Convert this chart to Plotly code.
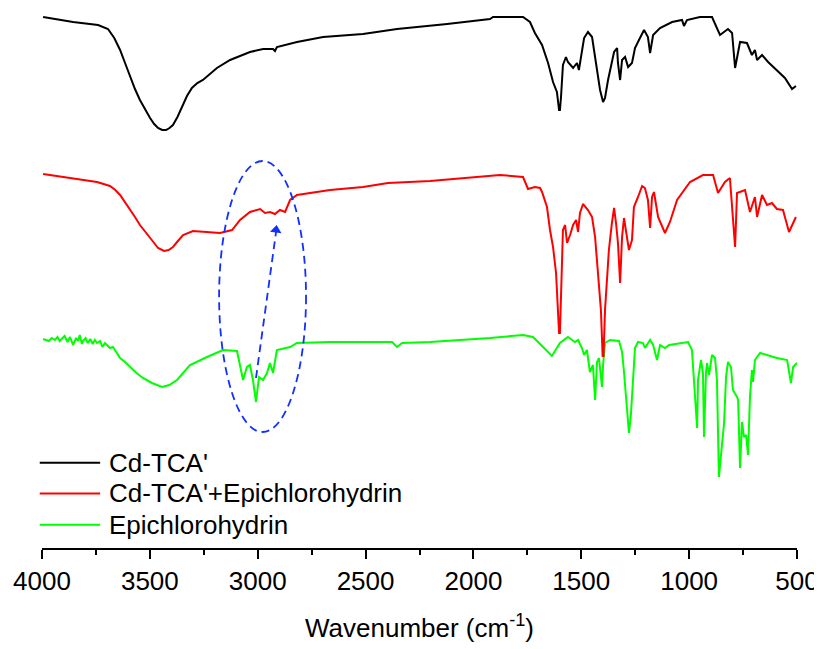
import plotly.graph_objects as go

# ---------------- data (y = offset transmittance, a.u.) ----------------
wn_black = [3995, 3856, 3740, 3694, 3665, 3638, 3615, 3592, 3569, 3546, 3522, 3499, 3480, 3462, 3443,
            3425, 3409, 3393, 3372, 3351, 3328, 3305, 3280, 3254, 3220, 3189,
            3128, 3036, 2975, 2929, 2920, 2911, 2818, 2697, 2512, 2354, 2122, 1923, 1909, 1770, 1738,
            1715, 1682, 1654, 1631, 1613, 1603, 1599, 1594, 1585, 1571, 1562, 1538, 1520, 1511, 1497,
            1487, 1469, 1450, 1441, 1427, 1413, 1399, 1390, 1376, 1362, 1348, 1334, 1330, 1320, 1311,
            1297, 1283, 1265, 1251, 1228, 1209, 1191, 1181, 1167, 1135, 1079, 1033, 1024, 1010, 950,
            894, 857, 820, 801, 787, 764, 732, 709, 695, 685, 662, 634, 593, 556, 523, 505]
t_black = [531, 526, 523, 519, 510, 498, 485, 471, 459, 448, 438, 430, 424, 420, 418,
           418, 420, 423, 431, 441, 452, 460, 465, 468, 474, 480,
           488, 496, 499, 499, 497, 501, 506, 511, 514, 519, 524, 529, 531, 531, 526,
           515, 503, 485, 466, 456, 438, 438, 451, 483, 491, 486, 480, 485, 478, 495,
           510, 516, 511, 498, 476, 458, 446, 450, 468, 483, 496, 500, 485, 468, 488,
           491, 481, 485, 500, 510, 518, 511, 495, 513, 520, 526, 528, 522, 528, 531,
           531, 513, 519, 515, 480, 506, 505, 493, 498, 488, 493, 486, 478, 470, 459, 462]

wn_red = [3995, 3870, 3745, 3685, 3660, 3638, 3615, 3592, 3569, 3546, 3522, 3499, 3480, 3462, 3434,
          3413, 3393, 3370, 3346, 3300, 3235, 3175,
          3119, 3082, 3036, 2989, 2966, 2943, 2920, 2897, 2873, 2850, 2818, 2665, 2512, 2396, 2201,
          1970, 1877, 1770, 1747, 1715, 1691, 1682, 1659, 1645, 1631, 1617, 1608, 1603, 1599, 1594,
          1585, 1575, 1566, 1552, 1538, 1524, 1515, 1506, 1492, 1469, 1450, 1436, 1427, 1418, 1409,
          1401, 1397, 1390, 1381, 1372, 1358, 1348, 1339, 1330, 1320, 1311, 1302, 1288, 1279, 1265,
          1256, 1237, 1218, 1205, 1191, 1181, 1172, 1163, 1144, 1112, 1089, 1056, 1029, 996, 936,
          889, 866, 834, 811, 787, 778, 764, 741, 718, 695, 685, 662, 639, 616, 593, 565, 537, 505]
t_red = [374, 370, 366, 362, 358, 353, 346, 338, 331, 323, 316, 310, 305, 300, 297,
         298, 301, 307, 313, 317, 316, 315,
         318, 328, 336, 339, 335, 336, 334, 338, 336, 348, 353, 358, 361, 365, 367,
         371, 373, 371, 359, 361, 360, 356, 341, 318, 301, 275, 238, 215, 215, 260,
         318, 323, 305, 313, 323, 328, 316, 335, 344, 338, 331, 311, 288, 268, 238,
         192, 192, 238, 271, 298, 325, 340, 325, 305, 265, 311, 330, 311, 298, 308,
         341, 351, 362, 360, 348, 320, 351, 356, 331, 315, 326, 348, 356, 366, 373,
         373, 355, 366, 370, 301, 355, 356, 358, 336, 351, 331, 353, 343, 345, 339, 338, 316, 331]

wn_green = [3995, 3980, 3968, 3955, 3940, 3928, 3918, 3905, 3895, 3882, 3870, 3856, 3842, 3833, 3825,
            3815, 3810, 3798, 3788, 3776, 3765, 3755, 3745, 3731, 3720, 3708,
            3685, 3671, 3657, 3638, 3615, 3592, 3562, 3532, 3490, 3444, 3410, 3374, 3314, 3235, 3161,
            3096, 3082, 3068,
            3050, 3036, 3022, 3008, 2994, 2975, 2957, 2943, 2929, 2911, 2850, 2818, 2665, 2377, 2354,
            2331, 2201, 1923, 1770, 1724, 1677, 1636, 1599, 1562, 1529, 1515, 1497, 1487, 1474, 1460,
            1446, 1436, 1427, 1418, 1404, 1399, 1390, 1367, 1325, 1311, 1302, 1288, 1279, 1270, 1265,
            1251, 1237, 1214, 1205, 1181, 1167, 1149, 1135, 1112, 1093, 1042, 1005, 987, 977, 963,
            959, 945, 936, 931, 922, 917, 908, 894, 880, 871, 862, 848, 838, 829, 820,
            806, 797, 778, 773, 764, 755, 746, 736, 727, 718, 709, 704, 695, 671, 593,
            546, 528, 518, 500]
t_green = [209, 208, 207, 210, 208, 211, 207, 210, 212, 206, 211, 203, 210, 207, 213,
           204, 207, 210, 205, 209, 204, 208, 205, 207, 201, 205,
           200, 201, 196, 190, 186, 181, 175, 170, 165, 161, 163, 168, 183, 191, 198,
           197, 181, 168,
           181, 183, 168, 146, 171, 168, 175, 185, 175, 198, 201, 205, 206, 206, 201,
           205, 206, 210, 213, 211, 201, 192, 205, 211, 206, 208, 200, 193, 198, 176,
           183, 148, 186, 190, 161, 183, 205, 208, 207, 196, 176, 136, 115, 133, 151,
           200, 206, 205, 200, 208, 203, 188, 203, 200, 203, 205, 206, 198, 168, 120,
           168, 188, 175, 111, 175, 185, 173, 193, 190, 168, 71, 103, 125, 171, 186,
           181, 158, 151, 148, 80, 126, 111, 113, 93, 151, 178, 166, 188, 195, 190,
           188, 165, 181, 185]

series_names = ["Cd-TCA'", "Cd-TCA'+Epichlorohydrin", "Epichlorohydrin"]
series_colors = ["#000000", "#FF0000", "#00FF00"]

x_ticks = [4000, 3500, 3000, 2500, 2000, 1500, 1000, 500]
x_minor = [3750, 3250, 2750, 2250, 1750, 1250, 750]

# highlighted region (ellipse) and arrow, in data units
ellipse_x = [3179, 2776]
ellipse_y = [116, 387]
arrow_tail = [3008, 170]
arrow_tip = [2915, 322]

# ---------------- figure ----------------
fig = go.Figure()
fig.add_trace(go.Scatter(x=wn_green, y=t_green, mode="lines", name=series_names[2],
                         line=dict(color=series_colors[2], width=2), showlegend=False))
fig.add_trace(go.Scatter(x=wn_red, y=t_red, mode="lines", name=series_names[1],
                         line=dict(color=series_colors[1], width=2), showlegend=False))
fig.add_trace(go.Scatter(x=wn_black, y=t_black, mode="lines", name=series_names[0],
                         line=dict(color=series_colors[0], width=2), showlegend=False))

blue = "#1030FF"
fig.add_shape(type="circle", xref="x", yref="y",
              x0=ellipse_x[0], x1=ellipse_x[1], y0=ellipse_y[0], y1=ellipse_y[1],
              line=dict(color=blue, width=1.8, dash="8px,5px"))
fig.add_shape(type="line", xref="x", yref="y",
              x0=arrow_tail[0], y0=arrow_tail[1], x1=arrow_tip[0], y1=arrow_tip[1] - 6,
              line=dict(color=blue, width=1.8, dash="8px,5px"))
# arrow head
fig.add_trace(go.Scatter(x=[arrow_tip[0]], y=[arrow_tip[1] - 4], mode="markers",
                         marker=dict(symbol="triangle-up", size=10, angle=7, color=blue,
                                     line=dict(width=0)),
                         showlegend=False, hoverinfo="skip"))

# manual legend (long line samples like the original)
leg_y = [0.158, 0.101, 0.043]
for name, col, yy in zip(series_names, series_colors, leg_y):
    fig.add_shape(type="line", xref="paper", yref="paper",
                  x0=-0.003, x1=0.077, y0=yy, y1=yy,
                  line=dict(color=col, width=2))
    fig.add_annotation(xref="paper", yref="paper", x=0.086, y=yy,
                       text=name, showarrow=False, xanchor="left", yanchor="middle",
                       font=dict(size=26, color="black",
                                 family="Arial, Liberation Sans, sans-serif"))

# the page body adds an 8px offset; margins compensate so the plot lands where the original is
fig.update_layout(
    width=822, height=649,
    margin=dict(l=34, r=33, t=0, b=109),
    paper_bgcolor="white", plot_bgcolor="white",
    font=dict(family="Arial, Liberation Sans, sans-serif", color="black"),
    showlegend=False,
)
fig.update_xaxes(
    range=[4000, 500], autorange=False,
    tickmode="array", tickvals=x_ticks, ticktext=[str(v) for v in x_ticks],
    ticks="outside", ticklen=9, tickwidth=2, tickcolor="black",
    minor=dict(ticks="outside", ticklen=5, tickwidth=2, tickcolor="black",
               tickmode="array", tickvals=x_minor),
    showline=True, linewidth=2, linecolor="black",
    showgrid=False, zeroline=False,
    tickfont=dict(size=26),
    title=dict(text="Wavenumber (cm<sup>-1</sup>)", font=dict(size=26), standoff=24),
)
fig.update_yaxes(range=[0, 540], autorange=False, visible=False,
                 showgrid=False, zeroline=False)

fig.write_html("out.html")
